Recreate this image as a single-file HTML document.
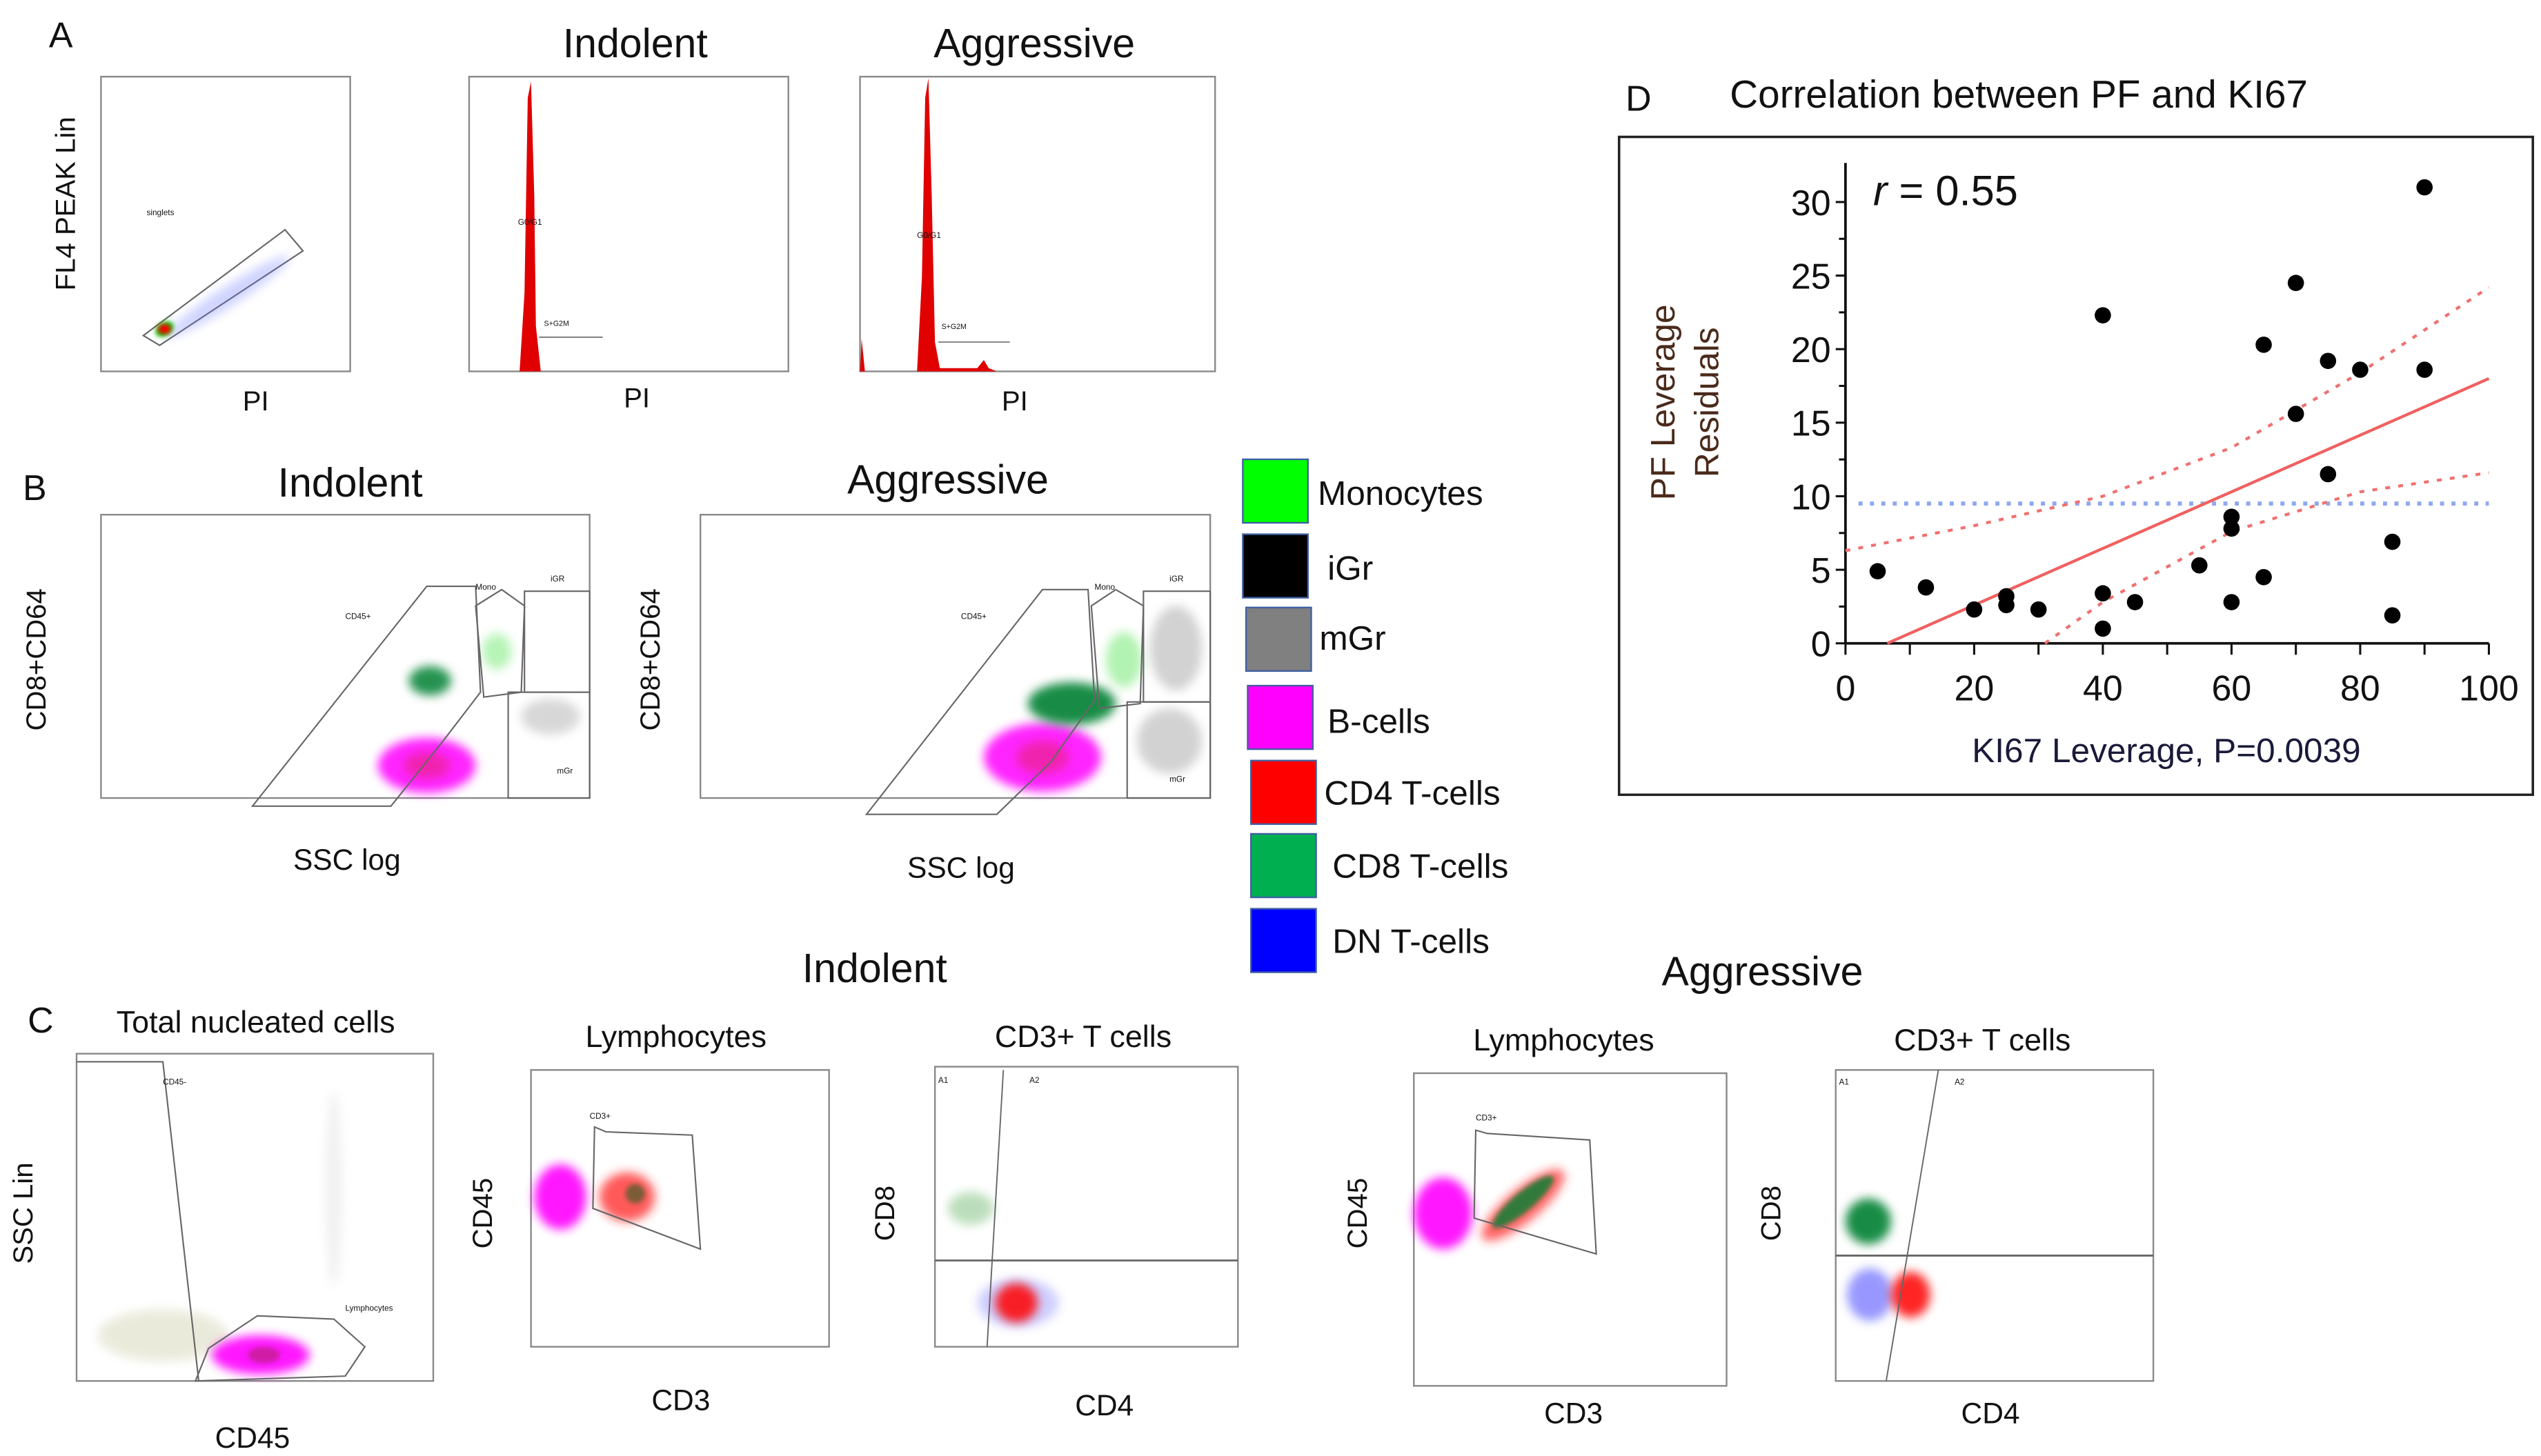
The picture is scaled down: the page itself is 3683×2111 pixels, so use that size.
<!DOCTYPE html>
<html><head><meta charset="utf-8"><style>
html,body{margin:0;padding:0;background:#fff;}
svg{display:block;font-family:"Liberation Sans",sans-serif;}
.t{font-family:"Liberation Sans",sans-serif;fill:#111;}
.box{fill:#fff;stroke:#888;stroke-width:1;}
.gate{fill:none;stroke:#666;stroke-width:0.9;}
</style></head><body>
<svg id="fig" width="3683" height="2111" viewBox="0 0 1560 894" xmlns="http://www.w3.org/2000/svg">
<defs>
<filter id="bl" x="-50%" y="-50%" width="200%" height="200%"><feGaussianBlur stdDeviation="3"/></filter>
<filter id="bl2" x="-50%" y="-50%" width="200%" height="200%"><feGaussianBlur stdDeviation="1.5"/></filter>
</defs>

<!-- PANEL A -->
<g>
<text class="t" x="30" y="29" font-size="22">A</text>
<rect class="box" x="62" y="47" width="153" height="181"/>
<text class="t" x="46" y="125" font-size="17" text-anchor="middle" transform="rotate(-90 46 125)">FL4 PEAK Lin</text>
<text class="t" x="90" y="132" font-size="5">singlets</text>
<polygon class="gate" points="88,206 175,141 186,154 98,212"/>
<ellipse cx="140" cy="182" rx="45" ry="6" transform="rotate(-33 140 182)" fill="#6070ff" opacity="0.3" filter="url(#bl)"/>
<ellipse cx="101" cy="202" rx="6" ry="4" transform="rotate(-33 101 202)" fill="#00c000" filter="url(#bl2)"/>
<ellipse cx="101" cy="202" rx="4" ry="3" fill="#f00" filter="url(#bl2)"/>
<text class="t" x="157" y="252" font-size="17" text-anchor="middle">PI</text>

<text class="t" x="390" y="35" font-size="25" text-anchor="middle">Indolent</text>
<rect class="box" x="288" y="47" width="196" height="181"/>
<path d="M319,228 L322,180 L324,60 L326,50 L328,120 L329,200 L332,228 Z" fill="#e00000"/>
<text class="t" x="318" y="138" font-size="5">G0/G1</text>
<text class="t" x="334" y="200" font-size="4.5">S+G2M</text>
<line x1="331" y1="207" x2="370" y2="207" stroke="#555" stroke-width="0.6"/>
<text class="t" x="391" y="250" font-size="17" text-anchor="middle">PI</text>

<text class="t" x="635" y="35" font-size="25" text-anchor="middle">Aggressive</text>
<rect class="box" x="528" y="47" width="218" height="181"/>
<path d="M528,228 L529,208 L531,228 Z M563,228 L566,170 L568,60 L570,48 L572,120 L574,210 L577,226 L600,226 L604,221 L607,226 L612,228 Z" fill="#e00000"/>
<text class="t" x="563" y="146" font-size="5">G0/G1</text>
<text class="t" x="578" y="202" font-size="4.5">S+G2M</text>
<line x1="576" y1="210" x2="620" y2="210" stroke="#555" stroke-width="0.6"/>
<text class="t" x="623" y="252" font-size="17" text-anchor="middle">PI</text>
</g>

<!-- PANEL B -->
<g>
<text class="t" x="14" y="307" font-size="22">B</text>
<text class="t" x="215" y="305" font-size="25" text-anchor="middle">Indolent</text>
<rect class="box" x="62" y="316" width="300" height="174"/>
<text class="t" x="28" y="405" font-size="17" text-anchor="middle" transform="rotate(-90 28 405)">CD8+CD64</text>
<ellipse cx="262" cy="470" rx="30" ry="17" fill="#ff00ff" opacity="0.85" filter="url(#bl)"/>
<ellipse cx="262" cy="470" rx="14" ry="8" fill="#e02060" opacity="0.5" filter="url(#bl)"/>
<ellipse cx="264" cy="418" rx="13" ry="9" fill="#008030" opacity="0.85" filter="url(#bl)"/>
<ellipse cx="338" cy="440" rx="18" ry="11" fill="#909090" opacity="0.35" filter="url(#bl)"/>
<ellipse cx="305" cy="400" rx="9" ry="11" fill="#30e030" opacity="0.35" filter="url(#bl)"/>
<polygon class="gate" points="155,495 262,360 292,360 295,425 272,455 240,495"/>
<polygon class="gate" points="292,372 308,362 322,372 320,425 297,428"/>
<rect class="gate" x="322" y="363" width="40" height="62"/>
<rect class="gate" x="312" y="425" width="50" height="65"/>
<text class="t" x="212" y="380" font-size="5">CD45+</text>
<text class="t" x="292" y="362" font-size="5">Mono</text>
<text class="t" x="338" y="357" font-size="5">iGR</text>
<text class="t" x="342" y="475" font-size="5">mGr</text>
<text class="t" x="213" y="534" font-size="18" text-anchor="middle">SSC log</text>

<text class="t" x="582" y="303" font-size="25" text-anchor="middle">Aggressive</text>
<rect class="box" x="430" y="316" width="313" height="174"/>
<text class="t" x="405" y="405" font-size="17" text-anchor="middle" transform="rotate(-90 405 405)">CD8+CD64</text>
<ellipse cx="640" cy="465" rx="36" ry="21" fill="#ff00ff" opacity="0.85" filter="url(#bl)"/>
<ellipse cx="640" cy="465" rx="16" ry="10" fill="#e02060" opacity="0.5" filter="url(#bl)"/>
<ellipse cx="658" cy="432" rx="27" ry="13" fill="#008030" opacity="0.9" filter="url(#bl)"/>
<ellipse cx="690" cy="405" rx="11" ry="17" fill="#40e040" opacity="0.4" filter="url(#bl)"/>
<ellipse cx="722" cy="398" rx="16" ry="26" fill="#202020" opacity="0.2" filter="url(#bl)"/>
<ellipse cx="718" cy="455" rx="20" ry="20" fill="#909090" opacity="0.4" filter="url(#bl)"/>
<polygon class="gate" points="532,500 640,362 668,362 672,430 645,468 612,500"/>
<polygon class="gate" points="670,372 685,362 702,372 700,432 675,435"/>
<rect class="gate" x="702" y="363" width="41" height="68"/>
<rect class="gate" x="692" y="431" width="51" height="59"/>
<text class="t" x="590" y="380" font-size="5">CD45+</text>
<text class="t" x="672" y="362" font-size="5">Mono</text>
<text class="t" x="718" y="357" font-size="5">iGR</text>
<text class="t" x="718" y="480" font-size="5">mGr</text>
<text class="t" x="590" y="539" font-size="18" text-anchor="middle">SSC log</text>
</g>

<!-- LEGEND -->
<g font-size="21">
<g><rect x="763" y="282" width="40" height="39" fill="#00ff00" stroke="#4060a0"/><text class="t" x="809" y="310">Monocytes</text></g>
<g><rect x="763" y="328" width="40" height="39" fill="#000" stroke="#4060a0"/><text class="t" x="815" y="356">iGr</text></g>
<g><rect x="765" y="373" width="40" height="39" fill="#808080" stroke="#4060a0"/><text class="t" x="810" y="399">mGr</text></g>
<g><rect x="766" y="421" width="40" height="39" fill="#ff00ff" stroke="#4060a0"/><text class="t" x="815" y="450">B-cells</text></g>
<g><rect x="768" y="467" width="40" height="39" fill="#ff0000" stroke="#4060a0"/><text class="t" x="813" y="494">CD4 T-cells</text></g>
<g><rect x="768" y="512" width="40" height="39" fill="#00b050" stroke="#4060a0"/><text class="t" x="818" y="539">CD8 T-cells</text></g>
<g><rect x="768" y="558" width="40" height="39" fill="#0000ff" stroke="#4060a0"/><text class="t" x="818" y="585">DN T-cells</text></g>
</g>

<!-- PANEL C -->
<g>
<text class="t" x="537" y="603" font-size="25" text-anchor="middle">Indolent</text>
<text class="t" x="1082" y="605" font-size="25" text-anchor="middle">Aggressive</text>
<text class="t" x="17" y="634" font-size="22">C</text>
<text class="t" x="157" y="634" font-size="19" text-anchor="middle">Total nucleated cells</text>
<rect class="box" x="47" y="647" width="219" height="201"/>
<text class="t" x="20" y="745" font-size="17" text-anchor="middle" transform="rotate(-90 20 745)">SSC Lin</text>
<ellipse cx="100" cy="820" rx="40" ry="16" fill="#909040" opacity="0.18" filter="url(#bl)"/>
<ellipse cx="205" cy="730" rx="5" ry="60" fill="#888" opacity="0.12" filter="url(#bl)"/>
<ellipse cx="160" cy="832" rx="30" ry="12" fill="#ff00ff" opacity="0.9" filter="url(#bl)"/>
<ellipse cx="162" cy="832" rx="10" ry="5" fill="#a02050" opacity="0.5" filter="url(#bl2)"/>
<polyline class="gate" points="47,652 100,652 122,848"/>
<polygon class="gate" points="120,848 128,828 158,808 205,810 224,827 212,845"/>
<text class="t" x="100" y="666" font-size="5">CD45-</text>
<text class="t" x="212" y="805" font-size="5">Lymphocytes</text>
<text class="t" x="155" y="889" font-size="18" text-anchor="middle">CD45</text>

<text class="t" x="415" y="643" font-size="19" text-anchor="middle">Lymphocytes</text>
<rect class="box" x="326" y="657" width="183" height="170"/>
<text class="t" x="302" y="745" font-size="17" text-anchor="middle" transform="rotate(-90 302 745)">CD45</text>
<ellipse cx="344" cy="735" rx="16" ry="20" fill="#ff00ff" opacity="0.9" filter="url(#bl)"/>
<ellipse cx="385" cy="735" rx="17" ry="15" fill="#ff2020" opacity="0.75" filter="url(#bl)"/>
<ellipse cx="390" cy="733" rx="6" ry="6" fill="#206020" opacity="0.6" filter="url(#bl2)"/>
<polygon class="gate" points="365,692 372,695 425,697 430,767 364,742"/>
<text class="t" x="362" y="687" font-size="5">CD3+</text>
<text class="t" x="418" y="866" font-size="18" text-anchor="middle">CD3</text>

<text class="t" x="665" y="643" font-size="19" text-anchor="middle">CD3+ T cells</text>
<rect class="box" x="574" y="655" width="186" height="172"/>
<text class="t" x="549" y="745" font-size="17" text-anchor="middle" transform="rotate(-90 549 745)">CD8</text>
<ellipse cx="596" cy="742" rx="14" ry="10" fill="#40a040" opacity="0.35" filter="url(#bl)"/>
<ellipse cx="625" cy="800" rx="25" ry="15" fill="#6060ff" opacity="0.3" filter="url(#bl)"/>
<ellipse cx="624" cy="800" rx="13" ry="12" fill="#ff0000" opacity="0.85" filter="url(#bl)"/>
<line x1="574" y1="774" x2="760" y2="774" stroke="#666" stroke-width="1.2"/>
<line x1="616" y1="657" x2="606" y2="827" stroke="#666" stroke-width="0.8"/>
<text class="t" x="576" y="665" font-size="5">A1</text><text class="t" x="632" y="665" font-size="5">A2</text>
<text class="t" x="678" y="869" font-size="18" text-anchor="middle">CD4</text>

<text class="t" x="960" y="645" font-size="19" text-anchor="middle">Lymphocytes</text>
<rect class="box" x="868" y="659" width="192" height="192"/>
<text class="t" x="839" y="745" font-size="17" text-anchor="middle" transform="rotate(-90 839 745)">CD45</text>
<ellipse cx="886" cy="745" rx="18" ry="22" fill="#ff00ff" opacity="0.9" filter="url(#bl)"/>
<ellipse cx="935" cy="740" rx="32" ry="10" transform="rotate(-40 935 740)" fill="#ff2020" opacity="0.7" filter="url(#bl)"/>
<ellipse cx="935" cy="738" rx="24" ry="6" transform="rotate(-40 935 738)" fill="#008030" opacity="0.8" filter="url(#bl2)"/>
<polygon class="gate" points="906,694 913,696 976,700 980,770 905,748"/>
<text class="t" x="906" y="688" font-size="5">CD3+</text>
<text class="t" x="966" y="874" font-size="18" text-anchor="middle">CD3</text>

<text class="t" x="1217" y="645" font-size="19" text-anchor="middle">CD3+ T cells</text>
<rect class="box" x="1127" y="657" width="195" height="191"/>
<text class="t" x="1093" y="745" font-size="17" text-anchor="middle" transform="rotate(-90 1093 745)">CD8</text>
<ellipse cx="1147" cy="750" rx="14" ry="14" fill="#008030" opacity="0.9" filter="url(#bl)"/>
<ellipse cx="1148" cy="795" rx="14" ry="16" fill="#3030ff" opacity="0.5" filter="url(#bl)"/>
<ellipse cx="1173" cy="795" rx="12" ry="14" fill="#ff0000" opacity="0.85" filter="url(#bl)"/>
<line x1="1127" y1="771" x2="1322" y2="771" stroke="#666" stroke-width="1.2"/>
<line x1="1190" y1="657" x2="1158" y2="848" stroke="#666" stroke-width="0.8"/>
<text class="t" x="1129" y="666" font-size="5">A1</text><text class="t" x="1200" y="666" font-size="5">A2</text>
<text class="t" x="1222" y="874" font-size="18" text-anchor="middle">CD4</text>
</g>

<!-- PANEL D -->
<g id="pd">
<text class="t" x="998" y="68" font-size="22">D</text>
<text class="t" x="1062" y="66" font-size="24">Correlation between PF and KI67</text>
<rect x="994" y="84" width="561" height="404" fill="#fff" stroke="#222" stroke-width="1.5"/>
<text x="1150" y="126" font-size="26" class="t"><tspan font-style="italic">r</tspan> = 0.55</text>
<text x="1028" y="247" font-size="21" fill="#4a2a1a" text-anchor="middle" transform="rotate(-90 1028 247)">PF Leverage</text>
<text x="1055" y="247" font-size="21" fill="#4a2a1a" text-anchor="middle" transform="rotate(-90 1055 247)">Residuals</text>
<text x="1330" y="468" font-size="21" fill="#1a1a3a" text-anchor="middle">KI67 Leverage, P=0.0039</text>
</g>
</svg>
<script>
const kiX=[5,12.5,20,25,25,30,40,40,40,45,55,60,60,60,65,65,70,70,75,75,80,85,85,90,90];
const pfY=[4.9,3.8,2.3,3.2,2.6,2.3,22.3,3.4,1.0,2.8,5.3,8.6,7.8,2.8,20.3,4.5,24.5,15.6,19.2,11.5,18.6,6.9,1.9,31,18.6];
const xTicks=[0,20,40,60,80,100];
const yTicks=[0,5,10,15,20,25,30];
const fitX=[6.5,100];
const fitY=[0,18];
const meanY=[9.5];
const ciUpX=[0,20,40,60,80,100];
const ciUpY=[6.3,8.0,10.0,13.3,18.4,24.2];
const ciLoX=[31,40,60,80,100];
const ciLoY=[0,2.8,7.6,10.3,11.6];
const NS='http://www.w3.org/2000/svg';
const sx=v=>1133+v*(1528-1133)/100;
const sy=v=>395-v*(395-124)/30;
const pd=document.getElementById('pd');
function mk(t,a,p){const e=document.createElementNS(NS,t);for(const k in a)e.setAttribute(k,a[k]);(p||pd).appendChild(e);return e;}
let ax=mk('line',{x1:sx(0),y1:sy(0),x2:sx(100),y2:sy(0),stroke:'#111','stroke-width':1.6});


let ay=mk('line',{x1:sx(0),y1:sy(0),x2:sx(0),y2:100,stroke:'#111','stroke-width':1.6});


for(let v=0;v<=100;v+=10){mk('line',{x1:sx(v),y1:sy(0),x2:sx(v),y2:sy(0)+7,stroke:'#111','stroke-width':1.3});}
for(let v=0;v<=32;v+=2.5){mk('line',{x1:sx(0),y1:sy(v),x2:sx(0)-(v%5===0?6:4),y2:sy(v),stroke:'#111','stroke-width':1.3});}
xTicks.forEach(v=>{const t=mk('text',{x:sx(v),y:sy(0)+35,'font-size':22,'text-anchor':'middle',fill:'#111'});t.textContent=v;

});
yTicks.forEach(v=>{const t=mk('text',{x:sx(0)-9,y:sy(v)+8,'font-size':22,'text-anchor':'end',fill:'#111'});t.textContent=v;

});
let ml=mk('line',{x1:sx(0)+8,y1:sy(meanY[0]),x2:sx(100),y2:sy(meanY[0]),stroke:'#8fa8f0','stroke-width':2.5,'stroke-dasharray':'2.5 4.5'});


const pl=(xs,ys)=>xs.map((x,i)=>sx(x)+','+sy(ys[i])).join(' ');
let cu=mk('polyline',{points:pl(ciUpX,ciUpY),fill:'none',stroke:'#f07070','stroke-width':1.8,'stroke-dasharray':'3 5'});


let cl=mk('polyline',{points:pl(ciLoX,ciLoY),fill:'none',stroke:'#f07070','stroke-width':1.8,'stroke-dasharray':'3 5'});


let fl=mk('polyline',{points:pl(fitX,fitY),fill:'none',stroke:'#f06060','stroke-width':1.8});


kiX.forEach((x,i)=>{const c=mk('circle',{cx:sx(x),cy:sy(pfY[i]),r:5,fill:'#000'});

});
</script>
</body></html>
